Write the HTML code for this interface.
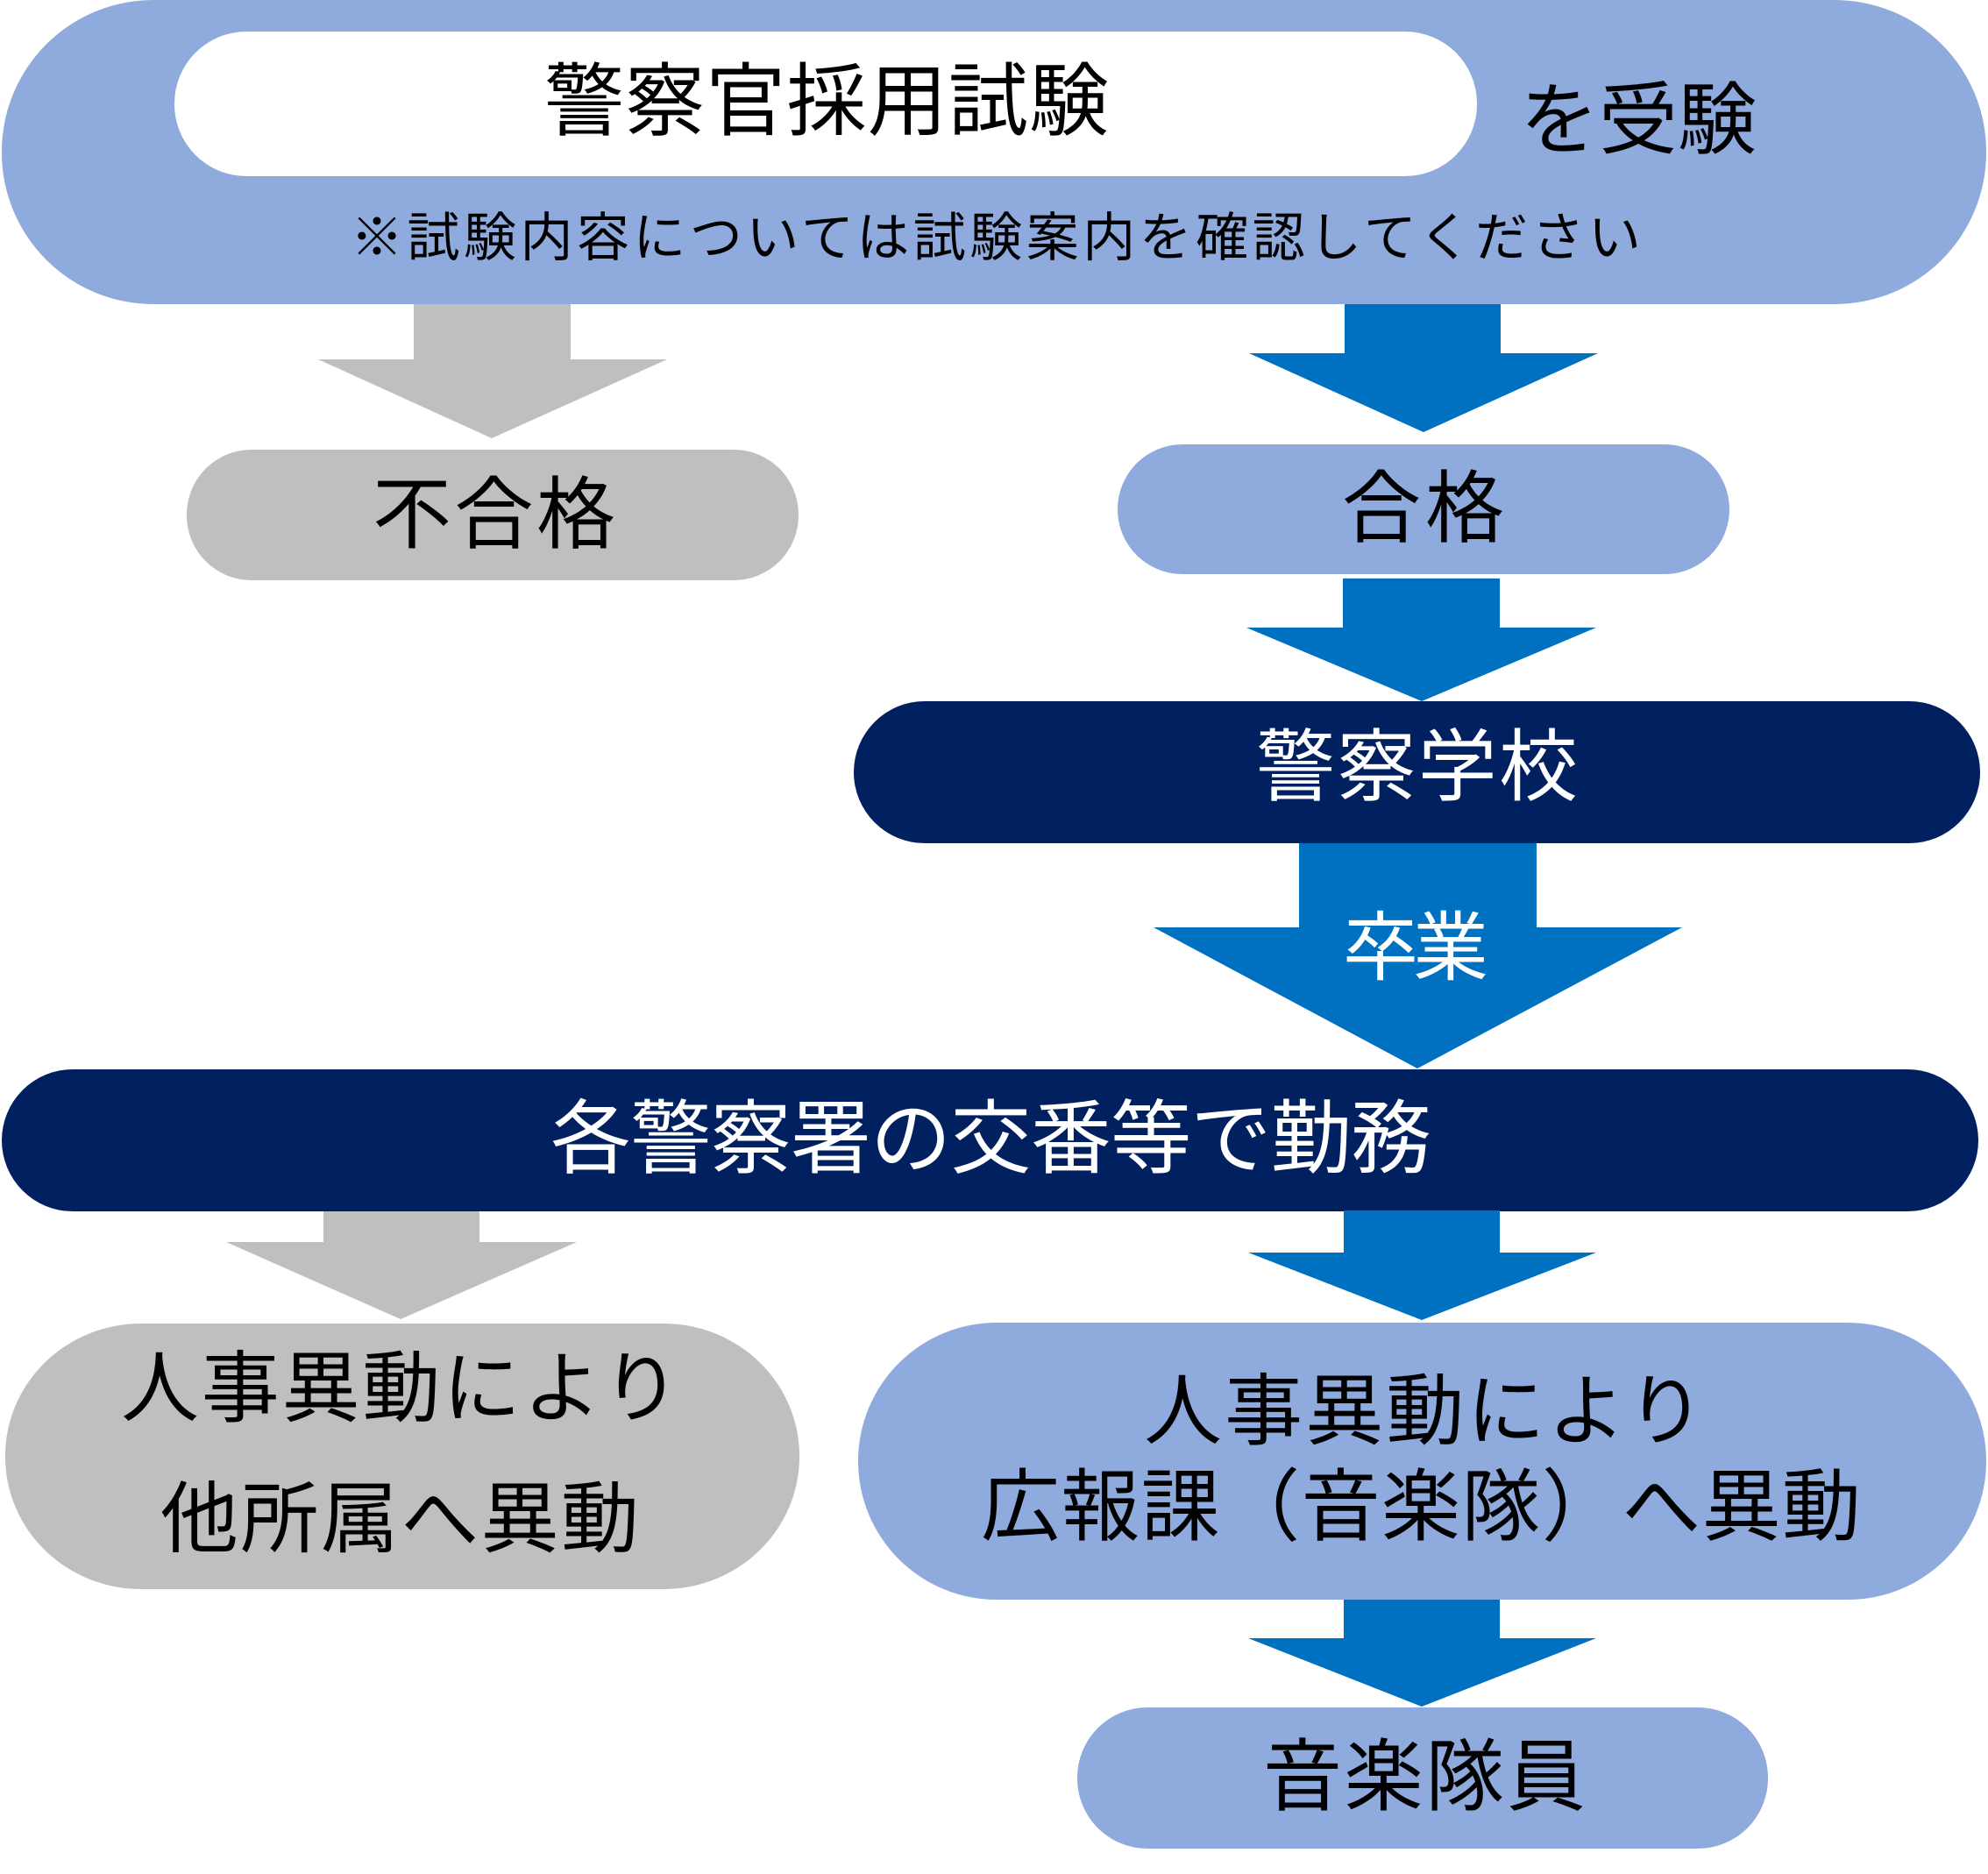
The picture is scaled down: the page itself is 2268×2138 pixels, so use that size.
<!DOCTYPE html>
<html>
<head>
<meta charset="utf-8">
<style>
  html, body { margin: 0; padding: 0; background: #ffffff; }
  body { width: 2268px; height: 2138px; overflow: hidden; }
  svg { display: block; }
  text { font-family: "Liberation Sans", "Noto Sans CJK JP", sans-serif; }
</style>
</head>
<body>
<svg width="2268" height="2138" viewBox="0 0 2268 2138" xmlns="http://www.w3.org/2000/svg">
  <rect x="0" y="0" width="2268" height="2138" fill="#ffffff"/>

  <!-- Top outer pill -->
  <rect x="2" y="0" width="2264" height="347" rx="173" ry="173" fill="#8FAADC"/>
  <!-- inner white pill -->
  <rect x="199" y="36" width="1486" height="165" rx="82" ry="82" fill="#ffffff"/>
  <text x="621" y="147" font-size="91" fill="#000" textLength="644">警察官採用試験</text>
  <text x="1734" y="168" font-size="90" fill="#000" textLength="270">を受験</text>
  <text x="400" y="292" font-size="60" fill="#000" textLength="1472">※試験内容については試験案内を確認してください</text>

  <!-- Arrow gray 1 -->
  <polygon points="472,347 651,347 651,410 761,410 561,500 363,410 472,410" fill="#BFBFBF"/>
  <!-- Arrow blue 1 -->
  <polygon points="1534,347 1712,347 1712,403 1823,403 1624,493 1425,403 1534,403" fill="#0070C0"/>

  <!-- 不合格 -->
  <rect x="213" y="513" width="698" height="149" rx="74" ry="74" fill="#BFBFBF"/>
  <text x="425" y="618" font-size="90" fill="#000" textLength="277">不合格</text>

  <!-- 合格 -->
  <rect x="1275" y="507" width="698" height="148" rx="74" ry="74" fill="#8FAADC"/>
  <text x="1531" y="611" font-size="90" fill="#000" textLength="185">合格</text>

  <!-- Arrow blue 2 -->
  <polygon points="1532,660 1711,660 1711,716 1821,716 1622,800 1422,716 1532,716" fill="#0070C0"/>

  <!-- 警察学校 -->
  <rect x="974" y="800" width="1285" height="162" rx="81" ry="81" fill="#002060"/>
  <text x="1433" y="906" font-size="90" fill="#fff" textLength="367">警察学校</text>

  <!-- Arrow 卒業 -->
  <polygon points="1482,962 1753,962 1753,1058 1919,1058 1617,1219 1316,1058 1482,1058" fill="#0070C0"/>
  <text x="1532" y="1111" font-size="86" fill="#fff" textLength="166">卒業</text>

  <!-- 各警察署 -->
  <rect x="2" y="1220" width="2255" height="162" rx="81" ry="81" fill="#002060"/>
  <text x="628" y="1331" font-size="92" fill="#fff" textLength="1005">各警察署の交番等で勤務</text>

  <!-- Arrow gray 2 -->
  <polygon points="369,1382 547,1382 547,1417 658,1417 457,1505 258,1417 369,1417" fill="#BFBFBF"/>
  <!-- Arrow blue 3 -->
  <polygon points="1533,1381 1711,1381 1711,1429 1821,1429 1622,1506 1424,1429 1533,1429" fill="#0070C0"/>

  <!-- gray pill 2 -->
  <rect x="6" y="1510" width="906" height="303" rx="155" ry="151" fill="#BFBFBF"/>
  <text x="138" y="1615" font-size="89" fill="#000" textLength="638">人事異動により</text>
  <text x="183" y="1764" font-size="89" fill="#000" textLength="546">他所属へ異動</text>

  <!-- blue pill 2 -->
  <rect x="979" y="1509" width="1287" height="316" rx="158" ry="158" fill="#8FAADC"/>
  <text x="1305" y="1641" font-size="89" fill="#000" textLength="640">人事異動により</text>
  <text x="1119" y="1750" font-size="90" fill="#000" textLength="1004">広報課（音楽隊）へ異動</text>

  <!-- Arrow blue 4 -->
  <polygon points="1533,1825 1711,1825 1711,1869 1821,1869 1622,1947 1424,1869 1533,1869" fill="#0070C0"/>

  <!-- 音楽隊員 -->
  <rect x="1229" y="1948" width="788" height="161" rx="80" ry="80" fill="#8FAADC"/>
  <text x="1441" y="2058" font-size="90" fill="#000" textLength="368">音楽隊員</text>
</svg>
</body>
</html>
